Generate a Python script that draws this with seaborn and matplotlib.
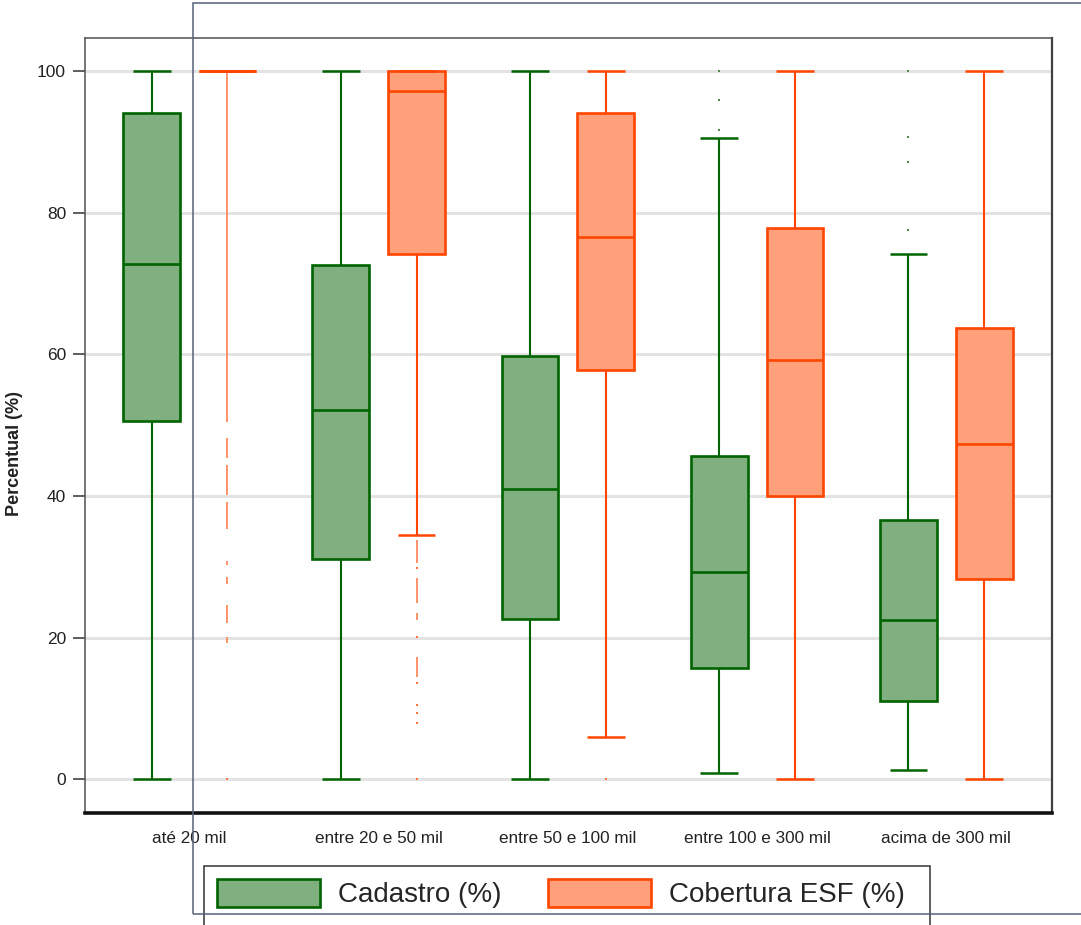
import matplotlib
matplotlib.use("Agg")
import matplotlib.pyplot as plt
from matplotlib.patches import Patch, Rectangle
import pandas as pd
import seaborn as sns

# Faixas de porte populacional
categories = ["até 20 mil", "entre 20 e 50 mil", "entre 50 e 100 mil",
              "entre 100 e 300 mil", "acima de 300 mil"]
series = ["Cadastro (%)", "Cobertura ESF (%)"]

# Cadastro (%): limites dos bigodes, quartis e mediana
cad_low = [0.0, 0.0, 0.0, 0.9, 1.3]
cad_q1 = [50.6, 31.1, 22.7, 15.7, 11.1]
cad_med = [72.8, 52.2, 41.0, 29.3, 22.5]
cad_q3 = [94.0, 72.6, 59.8, 45.6, 36.6]
cad_high = [100.0, 100.0, 100.0, 90.5, 74.2]

# Cobertura ESF (%)
esf_low = [100.0, 34.5, 6.0, 0.0, 0.0]
esf_q1 = [100.0, 74.1, 57.8, 40.0, 28.3]
esf_med = [100.0, 97.2, 76.6, 59.2, 47.4]
esf_q3 = [100.0, 100.0, 94.0, 77.8, 63.7]
esf_high = [100.0, 100.0, 100.0, 100.0, 100.0]

# Valores atípicos de Cadastro
cad_out_cat = [3, 3, 3, 4, 4, 4, 4]
cad_out_val = [100.0, 95.9, 91.7, 100.0, 90.7, 87.1, 77.5]

# Valores atípicos de Cobertura ESF: faixas densas (de / até) e pontos isolados
esf_run_cat = [0, 0, 0, 0, 0, 0, 0, 0, 1, 1, 1, 1]
esf_run_lo = [50.5, 45.4, 40.2, 35.3, 30.2, 27.6, 22.1, 19.2, 30.5, 24.9, 22.5, 14.5]
esf_run_hi = [99.8, 48.2, 44.4, 39.2, 30.9, 28.6, 24.6, 20.1, 33.8, 28.4, 23.5, 17.3]
esf_pt_cat = [0, 1, 1, 1, 1, 1, 1, 1, 2]
esf_pt_val = [0.0, 29.8, 20.1, 13.6, 10.5, 9.4, 8.0, 0.0, 0.0]

green_fill, green_edge = "#80B080", "#006400"
orange_fill, orange_edge = "#FFA07A", "#FF4500"
fills = {series[0]: green_fill, series[1]: orange_fill}
edges = [green_edge, orange_edge]

# Tabela longa com os cinco números de cada caixa
stats = [(cad_low, cad_q1, cad_med, cad_q3, cad_high),
         (esf_low, esf_q1, esf_med, esf_q3, esf_high)]
rows = []
for name, arrays in zip(series, stats):
    for i, cat in enumerate(categories):
        for arr in arrays:
            rows.append({"faixa": cat, "serie": name, "valor": arr[i]})
df = pd.DataFrame(rows)

sns.set_theme(style="white")
plt.rcParams["font.family"] = ["Liberation Sans", "DejaVu Sans"]

W, H = 1081, 925
fig = plt.figure(figsize=(W / 100, H / 100), dpi=100)
ax = fig.add_axes([85 / W, 1 - 812.7 / H, (1051.5 - 85) / W, (812.7 - 37.7) / H])

for name, edge in zip(series, edges):
    sns.boxplot(data=df[df["serie"] == name], x="faixa", y="valor", hue="serie",
                order=categories, hue_order=series, palette=fills, saturation=1,
                width=0.8, gap=0.25, dodge=True, whis=(0, 100),
                showcaps=False, showfliers=False, linecolor=edge, linewidth=1.9,
                whiskerprops={"linewidth": 1.5}, legend=False, ax=ax)

offsets = [-0.2, 0.2]
for arrays, edge, off in zip(stats, edges, offsets):
    lows, highs = arrays[0], arrays[-1]
    for i in range(len(categories)):
        ax.hlines([lows[i], highs[i]], i + off - 0.1, i + off + 0.1,
                  color=edge, lw=1.8, zorder=3)

# Atípicos
ax.vlines([c + offsets[1] for c in esf_run_cat], esf_run_lo, esf_run_hi,
          color="#FF8050", lw=1.2, zorder=2)
ax.plot([c + offsets[1] for c in esf_pt_cat], esf_pt_val, ls="none", marker="s",
        ms=1.5, mew=0, color="#FF7040", zorder=2)
ax.plot([c + offsets[0] for c in cad_out_cat], cad_out_val, ls="none", marker="s",
        ms=1.8, mew=0, color="#4F8A4F", zorder=2)

ax.set_xlim(-0.552, 4.556)
ax.set_ylim(-4.7, 104.7)
ax.set_yticks([0, 20, 40, 60, 80, 100])
ax.yaxis.grid(True, color="#E3E3E3", lw=2.2)
ax.xaxis.grid(False)
ax.set_axisbelow(True)
ax.set_xlabel("")
ax.set_ylabel("")
ax.tick_params(axis="y", left=True, length=8.6, width=1.1, color="#333333",
               pad=5, labelsize=12.5, labelcolor="#222222")
ax.tick_params(axis="x", bottom=False, length=0, pad=13, labelsize=12.3,
               labelcolor="#222222")
for side in ["left", "top"]:
    ax.spines[side].set_color("#505050")
    ax.spines[side].set_linewidth(1.1)
ax.spines["right"].set_color("#404040")
ax.spines["right"].set_linewidth(1.6)
ax.spines["bottom"].set_color("#111111")
ax.spines["bottom"].set_linewidth(2.6)

fig.text(15 / W, 1 - 453 / H, "Percentual (%)", rotation=90, ha="center",
         va="center", fontsize=13, fontweight="bold", color="#222222")

handles = [Patch(facecolor=green_fill, edgecolor=green_edge, lw=1.9),
           Patch(facecolor=orange_fill, edgecolor=orange_edge, lw=1.9)]
leg = fig.legend(handles, series, loc="upper left",
                 bbox_to_anchor=(204 / W, 1 - 866 / H), ncol=2, fontsize=20,
                 frameon=False, borderaxespad=0, borderpad=0.45,
                 handlelength=3.74, handleheight=1.19, handletextpad=0.65,
                 columnspacing=1.64)

# Caixa da legenda, que continua abaixo da borda da figura
fig.add_artist(Rectangle((204 / W, 1 - 945 / H), (930 - 204) / W, (945 - 866) / H,
                         transform=fig.transFigure, fill=False,
                         edgecolor="#333333", lw=1.1, zorder=4))

# Moldura externa
fig.add_artist(Rectangle((193 / W, 1 - 914 / H), (1095 - 193) / W, (914 - 3) / H,
                         transform=fig.transFigure, fill=False, edgecolor="#56607A",
                         lw=1.1, zorder=20))

fig.savefig("out.png", dpi=100)
